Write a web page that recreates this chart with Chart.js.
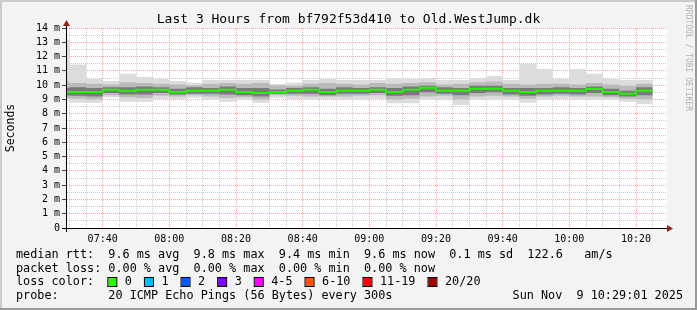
<!DOCTYPE html>
<html>
<head>
<meta charset="utf-8">
<script src="https://cdn.jsdelivr.net/npm/chart.js@4.4.1/dist/chart.umd.min.js"></script>
<style>
  html, body { margin: 0; padding: 0; background: #f3f3f3; }
  canvas { display: block; }
</style>
</head>
<body>
<canvas id="smoke" width="697" height="310"></canvas>
<script>
// ==========================================================================
// SMOKEPING LATENCY GRAPH (last 3 hours)
// ==========================================================================

// 5 minute bins (start time of each bin)
const binTimes = [
  '07:25', '07:30', '07:35', '07:40', '07:45', '07:50', '07:55', '08:00', '08:05',
  '08:10', '08:15', '08:20', '08:25', '08:30', '08:35', '08:40', '08:45', '08:50',
  '08:55', '09:00', '09:05', '09:10', '09:15', '09:20', '09:25', '09:30', '09:35',
  '09:40', '09:45', '09:50', '09:55', '10:00', '10:05', '10:10', '10:15', '10:20'
];

// median rtt, ms
const median = [
  9.52, 9.52, 9.52, 9.68, 9.61, 9.68, 9.68, 9.52, 9.61, 9.61, 9.68, 9.52,
  9.45, 9.52, 9.61, 9.68, 9.52, 9.61, 9.61, 9.68, 9.52, 9.68, 9.82, 9.61,
  9.61, 9.75, 9.75, 9.61, 9.52, 9.61, 9.61, 9.61, 9.73, 9.52, 9.40, 9.61
];

// smoke: slowest / fastest ping of each bin, ms
const smokeMax = [
  13.2, 11.45, 10.43, 10.29, 10.8, 10.57, 10.43, 10.29, 10.17, 10.36, 10.36, 10.36,
  10.36, 10.08, 10.17, 10.36, 10.43, 10.36, 10.36, 10.36, 10.5, 10.43, 10.5, 10.36,
  10.36, 10.5, 10.64, 10.36, 11.5, 11.13, 10.43, 11.13, 10.8, 10.43, 10.36, 10.36
];
const smokeMin = [
  8.9, 8.77, 8.77, 9.15, 8.84, 8.84, 9.03, 9.03, 9.12, 8.96, 8.84, 8.96,
  8.77, 9.12, 9.03, 8.96, 9.03, 9.0, 8.96, 9.05, 8.73, 8.73, 8.96, 8.96,
  8.61, 8.96, 8.96, 8.96, 8.77, 8.96, 9.05, 8.96, 8.96, 8.96, 8.84, 8.68
];

// smoke: middle band of pings, ms
const bandHi = [
  10.25, 10.15, 10.1, 10.05, 10.2, 10.15, 10.1, 10.05, 10.0, 10.1, 10.15, 10.1,
  10.15, 10.0, 9.95, 10.1, 10.15, 10.1, 10.05, 10.15, 10.1, 10.15, 10.2, 10.05,
  10.1, 10.2, 10.25, 10.1, 10.05, 10.1, 10.1, 10.05, 10.15, 10.05, 9.95, 10.1
];
const bandLo = [
  9.1, 9.05, 9.0, 9.3, 9.15, 9.1, 9.25, 9.2, 9.3, 9.2, 9.1, 9.15,
  9.0, 9.3, 9.25, 9.2, 9.2, 9.2, 9.25, 9.3, 9.0, 9.05, 9.2, 9.25,
  9.0, 9.2, 9.25, 9.2, 9.05, 9.2, 9.25, 9.2, 9.2, 9.15, 9.05, 9.0
];

// smoke: dense core around the median, ms
const coreHi = [
  9.8, 9.85, 9.8, 9.85, 9.85, 9.9, 9.85, 9.75, 9.85, 9.8, 9.9, 9.8,
  9.8, 9.7, 9.8, 9.85, 9.75, 9.85, 9.8, 9.85, 9.8, 9.9, 9.95, 9.85,
  9.8, 9.95, 9.95, 9.8, 9.8, 9.8, 9.85, 9.8, 9.9, 9.75, 9.6, 9.85
];
const coreLo = [
  9.3, 9.25, 9.2, 9.45, 9.35, 9.35, 9.45, 9.35, 9.4, 9.4, 9.35, 9.3,
  9.2, 9.4, 9.4, 9.4, 9.3, 9.4, 9.4, 9.45, 9.25, 9.3, 9.5, 9.4,
  9.3, 9.45, 9.5, 9.35, 9.25, 9.35, 9.4, 9.35, 9.45, 9.3, 9.2, 9.3
];

const xWindow = ['07:29:18', '10:29:18'];
const xLabels = ['07:40', '08:00', '08:20', '08:40', '09:00', '09:20', '09:40', '10:00', '10:20'];
const yMax = 14;

const titleText = 'Last 3 Hours from bf792f53d410 to Old.WestJump.dk';
const rttStats = ['9.6 ms avg', '9.8 ms max', '9.4 ms min', '9.6 ms now', '0.1 ms sd', '122.6   am/s'];
const lossStats = ['0.00 % avg', '0.00 % max', '0.00 % min', '0.00 % now'];
const lossLabels = ['0', '1', '2', '3', '4-5', '6-10', '11-19', '20/20'];
const lossColors = ['#26ff00', '#00b8ff', '#0059ff', '#7e00ff', '#ff00ff', '#ff5500', '#ff0000', '#a10000'];
const probeText = '20 ICMP Echo Pings (56 Bytes) every 300s';
const stampText = 'Sun Nov  9 10:29:01 2025';

const MONO = '"DejaVu Sans Mono", monospace';
const MAJOR = 'rgba(255, 90, 90, 0.55)';
const MINOR = 'rgba(140, 140, 140, 0.45)';

// minutes since 07:00
function toMin(t) {
  const [h, m, s] = t.split(':').map(Number);
  return (h - 7) * 60 + m + (s || 0) / 60;
}

const binStarts = binTimes.map(toMin);
const binEnd = binStarts[binStarts.length - 1] + 5;
const xMin = toMin(xWindow[0]);
const xMax = toMin(xWindow[1]);
const labelMins = xLabels.map(toMin);
const gridMins = binStarts.filter(m => m > xMin).concat([binEnd]);

function isLabelMin(v) {
  return labelMins.some(m => Math.abs(m - v) < 0.01);
}

// each bin value held flat across its 5 minutes
function steps(vals) {
  const pts = vals.map((v, i) => ({ x: binStarts[i], y: v }));
  pts.push({ x: binEnd, y: vals[vals.length - 1] });
  return pts;
}

function band(vals, color, fillNext) {
  return {
    data: steps(vals),
    stepped: true,
    borderWidth: 0,
    borderColor: 'rgba(0,0,0,0)',
    backgroundColor: color,
    pointRadius: 0,
    fill: fillNext ? '+1' : false
  };
}

const framePlugin = {
  id: 'frame',
  beforeDraw(chart) {
    const { ctx, chartArea: a } = chart;
    ctx.save();
    ctx.fillStyle = '#f3f3f3';
    ctx.fillRect(0, 0, 697, 310);
    ctx.fillStyle = '#cbcbcb';
    ctx.fillRect(0, 0, 697, 2);
    ctx.fillRect(0, 0, 2, 310);
    ctx.fillStyle = '#9a9a9a';
    ctx.fillRect(0, 308, 697, 2);
    ctx.fillRect(695, 0, 2, 310);
    ctx.fillStyle = '#ffffff';
    ctx.fillRect(a.left, a.top, a.right - a.left, a.bottom - a.top);
    ctx.restore();
  },
  afterDraw(chart) {
    const { ctx, chartArea: a } = chart;
    ctx.save();

    // axes + arrows
    ctx.fillStyle = '#000';
    ctx.fillRect(a.left - 5, a.bottom, a.right - a.left + 6, 1);
    ctx.fillRect(a.left - 1, a.top - 4, 1, a.bottom - a.top + 8);
    ctx.fillStyle = '#902020';
    ctx.beginPath();
    ctx.moveTo(a.left - 0.5, a.top - 8);
    ctx.lineTo(a.left - 4, a.top - 2);
    ctx.lineTo(a.left + 3, a.top - 2);
    ctx.closePath();
    ctx.fill();
    ctx.beginPath();
    ctx.moveTo(a.right + 6, a.bottom + 0.5);
    ctx.lineTo(a.right, a.bottom - 3);
    ctx.lineTo(a.right, a.bottom + 4);
    ctx.closePath();
    ctx.fill();

    // title
    ctx.fillStyle = '#000';
    ctx.font = '13px ' + MONO;
    ctx.textAlign = 'center';
    ctx.textBaseline = 'alphabetic';
    ctx.fillText(titleText, 348.5, 23);

    // vertical axis title
    ctx.save();
    ctx.translate(11, 128);
    ctx.rotate(-Math.PI / 2);
    ctx.font = '11.5px ' + MONO;
    ctx.textBaseline = 'middle';
    ctx.fillText('Seconds', 0, 0);
    ctx.restore();

    // watermark
    ctx.save();
    ctx.translate(688, 5);
    ctx.rotate(Math.PI / 2);
    ctx.font = '8px ' + MONO;
    ctx.fillStyle = '#b3b3b3';
    ctx.textAlign = 'left';
    ctx.textBaseline = 'middle';
    ctx.fillText('RRDTOOL / TOBI OETIKER', 0, 0);
    ctx.restore();

    // legend
    ctx.font = '11.8px ' + MONO;
    ctx.textAlign = 'left';
    ctx.textBaseline = 'middle';
    ctx.fillStyle = '#000';
    ctx.fillText('median rtt:  ' + rttStats.join('  '), 16, 255);
    ctx.fillText('packet loss: ' + lossStats.join('  '), 16, 268.5);
    ctx.fillText('loss color:', 16, 282);
    ctx.fillText('probe:       ' + probeText, 16, 296);
    ctx.textAlign = 'right';
    ctx.fillText(stampText, 683, 296);
    ctx.textAlign = 'left';

    let x = 16 + ctx.measureText('loss color:  ').width;
    lossLabels.forEach((label, i) => {
      ctx.fillStyle = lossColors[i];
      ctx.fillRect(x, 278, 8, 8);
      ctx.strokeStyle = '#000';
      ctx.lineWidth = 1;
      ctx.strokeRect(x - 0.5, 277.5, 9, 9);
      ctx.fillStyle = '#000';
      const lx = x + 16.5;
      ctx.fillText(label, lx, 282);
      x = lx + ctx.measureText(label).width + 13;
    });

    ctx.restore();
  }
};

new Chart(document.getElementById('smoke'), {
  type: 'line',
  data: {
    datasets: [
      {
        data: steps(median),
        stepped: true,
        borderColor: '#21f500',
        borderWidth: 2,
        pointRadius: 0,
        fill: false
      },
      band(coreHi, '#7a7a7a', true),
      band(coreLo, '#7a7a7a', false),
      band(bandHi, '#bababa', true),
      band(bandLo, '#bababa', false),
      band(smokeMax, '#dcdcdc', true),
      band(smokeMin, '#dcdcdc', false)
    ]
  },
  options: {
    responsive: false,
    animation: false,
    devicePixelRatio: 1,
    layout: { padding: { left: 10, top: 28, right: 30, bottom: 62 } },
    plugins: {
      legend: { display: false },
      tooltip: { enabled: false },
      title: { display: false }
    },
    scales: {
      x: {
        type: 'linear',
        min: xMin,
        max: xMax,
        z: 1,
        afterFit: s => { s.height = 20; },
        afterBuildTicks: s => { s.ticks = gridMins.map(v => ({ value: v })); },
        grid: {
          drawTicks: false,
          lineWidth: 1,
          color: c => (c.tick && isLabelMin(c.tick.value)) ? MAJOR : MINOR
        },
        border: { display: false, dash: [1, 1] },
        ticks: {
          autoSkip: false,
          maxRotation: 0,
          padding: 5,
          color: '#000',
          font: { family: MONO, size: 10 },
          callback: v => {
            const i = labelMins.findIndex(m => Math.abs(m - v) < 0.01);
            return i >= 0 ? xLabels[i] : '';
          }
        }
      },
      y: {
        min: 0,
        max: yMax,
        z: 1,
        afterFit: s => { s.width = 57; },
        grid: {
          drawTicks: true,
          tickLength: 5,
          lineWidth: 1,
          color: c => {
            if (!c.tick || c.tick.value === 0) return 'rgba(0,0,0,0)';
            return Number.isInteger(c.tick.value) ? MAJOR : MINOR;
          },
          tickColor: c => (c.tick && Number.isInteger(c.tick.value)) ? '#444' : 'rgba(0,0,0,0)'
        },
        border: { display: false, dash: [1, 1] },
        ticks: {
          autoSkip: false,
          stepSize: 0.5,
          padding: 2,
          color: '#000',
          font: { family: MONO, size: 10 },
          callback: v => Number.isInteger(v) ? (v === 0 ? '0' : v + ' m') : ''
        }
      }
    }
  },
  plugins: [framePlugin]
});
</script>
</body>
</html>
